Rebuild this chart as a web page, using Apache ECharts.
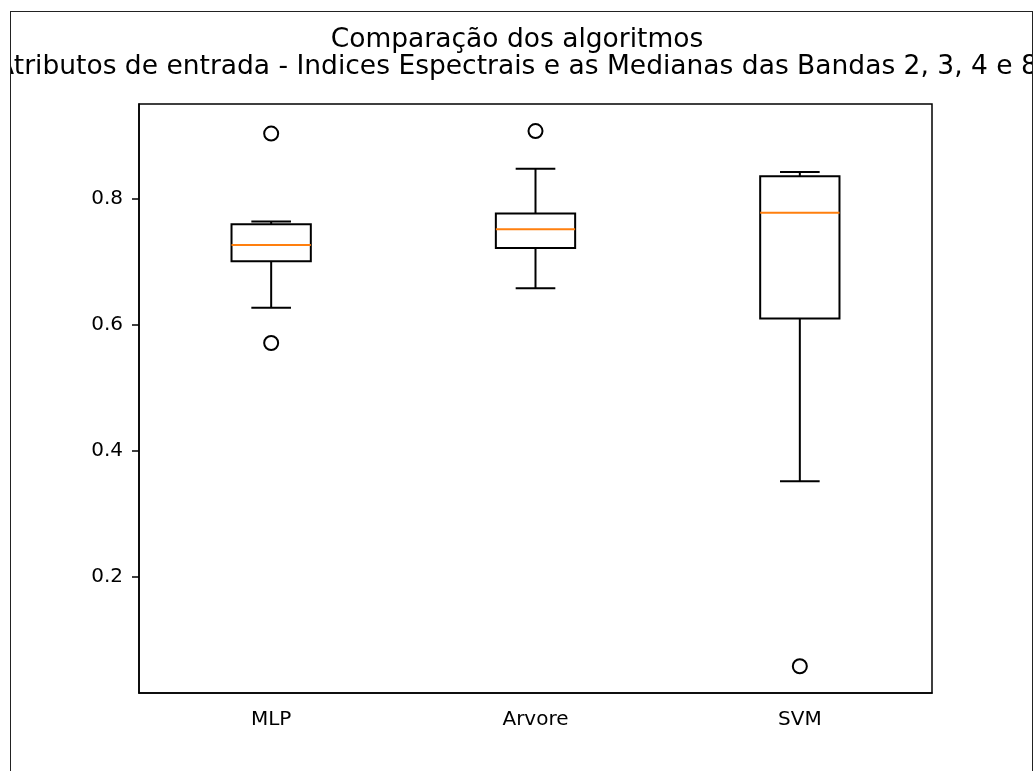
<!DOCTYPE html>
<html>
<head>
<meta charset="utf-8">
<title>Comparação dos algoritmos</title>
<script src="https://cdn.jsdelivr.net/npm/echarts@6/dist/echarts.min.js"></script>
<style>
  html, body { margin: 0; padding: 0; background: #fff; }
  #frame {
    position: absolute; left: 10px; top: 11px;
    width: 1021px; height: 800px;
    border: 1px solid #222; border-bottom: none;
    overflow: hidden;
  }
  #chart { width: 1021px; height: 759px; }
</style>
</head>
<body>
<div id="frame"><div id="chart"></div></div>
<script>
// values
const categories = ['MLP', 'Arvore', 'SVM']
const whiskerLow = [0.627, 0.658, 0.351]
const q1 = [0.701, 0.722, 0.610]
const median = [0.727, 0.752, 0.778]
const q3 = [0.760, 0.777, 0.836]
const whiskerHigh = [0.764, 0.848, 0.843]
const outliers = [[0, 0.904], [0, 0.571], [1, 0.908], [2, 0.057]]
const yTicks = [0.2, 0.4, 0.6, 0.8]
const yMin = 0.0145
const yMax = 0.951

const boxData = categories.map((c, i) => [i, whiskerLow[i], q1[i], median[i], q3[i], whiskerHigh[i]])

const chart = echarts.init(document.getElementById('chart'))

function renderBox(params, api) {
  const i = api.value(0)
  const lo = api.coord([i, api.value(1)])
  const b1 = api.coord([i, api.value(2)])
  const md = api.coord([i, api.value(3)])
  const b3 = api.coord([i, api.value(4)])
  const hi = api.coord([i, api.value(5)])
  const w = api.size([1, 0])[0] * 0.3
  const x = lo[0]
  const black = { stroke: '#000', lineWidth: 2, fill: null }
  return {
    type: 'group',
    children: [
      { type: 'rect', shape: { x: x - w / 2, y: b3[1], width: w, height: b1[1] - b3[1] }, style: black },
      { type: 'line', shape: { x1: x, y1: b1[1], x2: x, y2: lo[1] }, style: black },
      { type: 'line', shape: { x1: x, y1: b3[1], x2: x, y2: hi[1] }, style: black },
      { type: 'line', shape: { x1: x - w / 4, y1: lo[1], x2: x + w / 4, y2: lo[1] }, style: black },
      { type: 'line', shape: { x1: x - w / 4, y1: hi[1], x2: x + w / 4, y2: hi[1] }, style: black },
      { type: 'line', shape: { x1: x - w / 2, y1: md[1], x2: x + w / 2, y2: md[1] }, style: { stroke: '#ff7f0e', lineWidth: 2 } }
    ]
  }
}

const option = {
  backgroundColor: '#fff',
  animation: false,
  textStyle: { fontFamily: 'DejaVu Sans' },
  title: {
    text: 'Comparação dos algoritmos\nAtributos de entrada - Indices Espectrais e as Medianas das Bandas 2, 3, 4 e 8',
    left: 501,
    textAlign: 'center',
    top: 10,
    textStyle: { fontSize: 26.5, fontWeight: 'normal', color: '#000', lineHeight: 27 }
  },
  grid: {
    left: 128,
    right: 100,
    top: 92,
    bottom: 78,
    show: true,
    borderColor: '#000',
    borderWidth: 1.5,
    backgroundColor: 'transparent'
  },
  xAxis: {
    type: 'category',
    data: categories,
    boundaryGap: true,
    axisLine: { lineStyle: { color: '#000', width: 1.5 } },
    axisTick: { alignWithLabel: true, length: 7, lineStyle: { color: '#000', width: 1.5 } },
    axisLabel: { color: '#000', fontSize: 20, margin: 17 },
    splitLine: { show: false }
  },
  yAxis: {
    type: 'value',
    min: yMin,
    max: yMax,
    axisLine: { show: true, lineStyle: { color: '#000', width: 1.5 } },
    axisTick: { show: true, length: 7, customValues: yTicks, lineStyle: { color: '#000', width: 1.5 } },
    axisLabel: { color: '#000', fontSize: 20, margin: 16, customValues: yTicks, formatter: v => v.toFixed(1) },
    splitLine: { show: false }
  },
  series: [
    {
      type: 'custom',
      renderItem: renderBox,
      encode: { x: 0, y: [1, 2, 3, 4, 5] },
      data: boxData,
      z: 2
    },
    {
      type: 'scatter',
      data: outliers,
      symbol: 'circle',
      symbolSize: 14,
      itemStyle: { color: 'rgba(0,0,0,0)', borderColor: '#000', borderWidth: 2, opacity: 1 },
      z: 3
    }
  ]
}

chart.setOption(option)
</script>
</body>
</html>
